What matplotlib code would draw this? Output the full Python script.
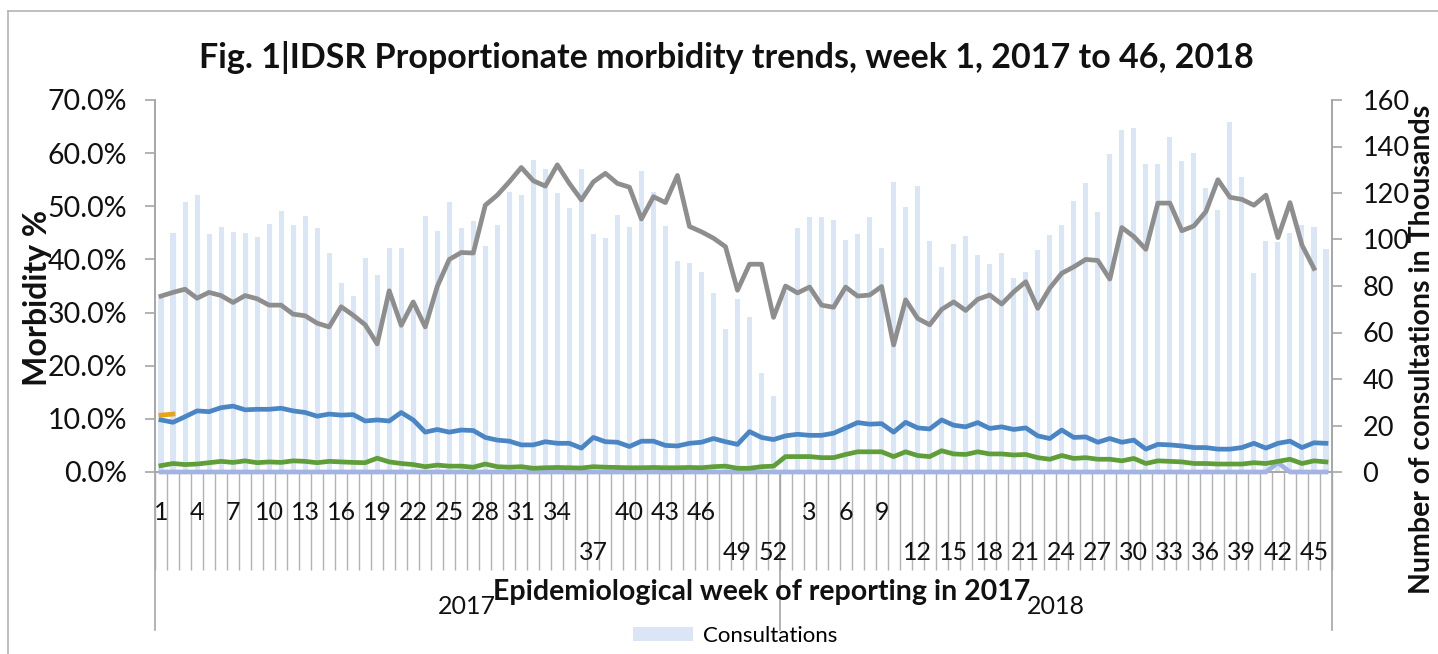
import numpy as np
import matplotlib
matplotlib.use("Agg")
import matplotlib.pyplot as plt
from matplotlib.lines import Line2D
import matplotlib.transforms as mtransforms

plt.rcParams['font.family'] = ['Lato', 'DejaVu Sans']

# ---------------- data ----------------
weeks_2017 = list(range(1, 53))
weeks_2018 = list(range(1, 47))
years = ["2017", "2018"]

consultations = [
    76.0, 102.7, 116.0, 119.1, 102.2, 105.4, 103.4, 102.9, 101.2, 106.5,
    112.1, 106.4, 110.2, 104.8, 94.1, 81.1, 75.8, 91.9, 84.7, 96.3,
    96.5, 70.0, 110.2, 103.5, 116.1, 105.1, 108.0, 97.4, 106.4, 120.3,
    119.1, 134.1, 130.3, 119.9, 113.4, 130.2, 102.4, 100.5, 110.5, 105.5,
    129.6, 120.6, 105.8, 90.9, 89.8, 86.2, 76.9, 61.5, 74.3, 66.5,
    42.4, 32.7, 78.0, 104.8, 109.5, 109.5, 108.4, 99.8, 102.2, 109.8,
    96.2, 124.9, 113.8, 123.2, 99.4, 88.3, 97.9, 101.5, 93.3, 89.5,
    94.1, 83.6, 86.2, 95.5, 101.9, 106.2, 116.7, 124.4, 111.7, 136.8,
    147.1, 148.1, 132.5, 132.5, 144.0, 133.9, 137.3, 122.3, 112.7, 150.7,
    127.0, 85.7, 99.4, 99.0, 102.7, 106.2, 105.5, 95.9,
]

series_gray = [
    33.1, 33.8, 34.4, 32.7, 33.8, 33.2, 31.9, 33.2, 32.6, 31.4,
    31.4, 29.7, 29.4, 28.0, 27.3, 31.1, 29.5, 27.7, 24.1, 34.1,
    27.6, 32.0, 27.3, 34.9, 40.0, 41.3, 41.2, 50.2, 52.1, 54.6,
    57.3, 54.8, 53.8, 57.8, 54.3, 51.2, 54.6, 56.2, 54.3, 53.6,
    47.6, 51.8, 50.7, 55.8, 46.2, 45.2, 44.0, 42.4, 34.2, 39.1,
    39.1, 29.1, 35.0, 33.7, 34.8, 31.4, 31.0, 34.8, 33.1, 33.3,
    34.9, 23.9, 32.4, 28.9, 27.7, 30.6, 32.0, 30.4, 32.5, 33.3,
    31.6, 33.9, 35.8, 30.8, 34.6, 37.4, 38.6, 40.0, 39.8, 36.3,
    46.0, 44.3, 41.9, 50.6, 50.6, 45.4, 46.3, 49.0, 55.0, 51.7,
    51.3, 50.2, 52.1, 44.1, 50.7, 42.7, 38.3, np.nan,
]

series_blue = [
    9.8, 9.35, 10.4, 11.5, 11.35, 12.1, 12.4, 11.7, 11.8, 11.8,
    12.0, 11.5, 11.2, 10.5, 10.9, 10.7, 10.8, 9.6, 9.8, 9.6,
    11.2, 9.8, 7.5, 8.0, 7.5, 7.9, 7.8, 6.5, 6.0, 5.8,
    5.1, 5.1, 5.7, 5.4, 5.4, 4.5, 6.5, 5.7, 5.6, 4.8,
    5.8, 5.8, 5.0, 4.9, 5.4, 5.6, 6.3, 5.7, 5.2, 7.6,
    6.5, 6.1, 6.8, 7.1, 6.9, 6.9, 7.3, 8.3, 9.3, 9.0,
    9.1, 7.5, 9.35, 8.3, 8.1, 9.8, 8.8, 8.5, 9.3, 8.2,
    8.5, 8.0, 8.3, 6.8, 6.3, 7.9, 6.5, 6.6, 5.6, 6.3,
    5.6, 6.0, 4.3, 5.2, 5.1, 4.9, 4.6, 4.6, 4.3, 4.3,
    4.6, 5.4, 4.5, 5.4, 5.8, 4.6, 5.5, 5.4,
]

series_green = [
    1.2, 1.6, 1.4, 1.5, 1.75, 2.0, 1.8, 2.1, 1.75, 1.9,
    1.8, 2.1, 2.0, 1.75, 2.0, 1.9, 1.8, 1.75, 2.6, 1.9,
    1.6, 1.4, 1.0, 1.3, 1.1, 1.1, 0.9, 1.5, 1.0, 0.9,
    1.0, 0.7, 0.8, 0.85, 0.8, 0.75, 1.0, 0.9, 0.85, 0.8,
    0.8, 0.85, 0.8, 0.8, 0.85, 0.8, 1.0, 1.1, 0.7, 0.7,
    1.0, 1.1, 2.9, 2.9, 2.9, 2.7, 2.7, 3.3, 3.8, 3.8,
    3.8, 2.9, 3.8, 3.1, 2.9, 4.0, 3.4, 3.3, 3.8, 3.4,
    3.4, 3.2, 3.3, 2.7, 2.4, 3.1, 2.55, 2.7, 2.4, 2.4,
    2.1, 2.55, 1.6, 2.1, 2.0, 1.9, 1.6, 1.6, 1.5, 1.5,
    1.5, 1.75, 1.6, 2.0, 2.4, 1.6, 2.1, 1.9,
]

series_lavender = [0.0] * 93 + [1.75] + [0.0] * 4

series_orange = [10.7, 10.9] + [np.nan] * 96

left_ticks = [0, 10, 20, 30, 40, 50, 60, 70]
right_ticks = [0, 20, 40, 60, 80, 100, 120, 140, 160]

# labelled weeks (every third category) and which ones drop to the lower row
label_step = 3
lower_row_2017 = [37, 49, 52]
lower_row_2018_from = 12

# ---------------- figure ----------------
W, H = 1438, 654
fig = plt.figure(figsize=(W / 100, H / 100), dpi=100)
fig.patch.set_facecolor('white')

L, R, T, B = 155, 1332, 100, 472
ax = fig.add_axes([L / W, 1 - B / H, (R - L) / W, (B - T) / H])
ax2 = ax.twinx()
ax.set_zorder(2)
ax.patch.set_visible(False)
ax2.set_zorder(1)

categories = [("2017", w) for w in weeks_2017] + [("2018", w) for w in weeks_2018]
n = len(categories)
x = np.arange(n)

bars = ax2.bar(x, consultations, width=0.42, color='#DAE6F5', linewidth=0)

lw = 3.4
ax.plot(x, series_lavender, color='#A3B3E2', lw=lw, clip_on=False, zorder=3)
ax.plot(x, series_green, color='#5F9E38', lw=lw, clip_on=False, zorder=4)
ax.plot(x, series_blue, color='#4A86C4', lw=lw, clip_on=False, zorder=4)
ax.plot(x, series_gray, color='#8E8E8E', lw=lw, clip_on=False, zorder=4)
ax.plot(x, series_orange, color='#E8A317', lw=lw, clip_on=False, zorder=4)

ax.set_xlim(-0.5, n - 0.5)
ax.set_ylim(0, 70)
ax2.set_ylim(0, 160)

axis_col = '#A6A6A6'
for a in (ax, ax2):
    a.spines['top'].set_visible(False)
    for s in ('left', 'right', 'bottom'):
        a.spines[s].set_color(axis_col)
        a.spines[s].set_linewidth(1.2)
        a.spines[s].set_zorder(1)

ax.set_yticks(left_ticks)
ax.set_yticklabels([f"{v:.1f}%" for v in left_ticks])
ax2.set_yticks(right_ticks)
ax2.set_yticklabels([str(v) for v in right_ticks])
ax.tick_params(axis='y', direction='out', length=7, width=1.2, color=axis_col,
               labelsize=20.5, pad=13, labelcolor='#111111')
ax2.tick_params(axis='y', direction='out', length=7, width=1.2, color=axis_col,
                labelsize=19.5, pad=15, labelcolor='#111111')

# category separators
ax.set_xticks(np.arange(-0.5, n, 1.0), minor=True)
ax.set_xticks([])
ax.tick_params(axis='x', which='minor', direction='out', length=98 / 1.389,
               width=1.0, color='#B2B2B2')
ax2.tick_params(axis='x', which='both', length=0)

trans = mtransforms.blended_transform_factory(ax.transData, ax.transAxes)
px = 1.0 / (B - T)  # one pixel in axes fraction (vertical)

# year boundaries extend further down
for xb in [-0.5, len(weeks_2017) - 0.5, n - 0.5]:
    ax.plot([xb, xb], [0, -158 * px], transform=trans, color=axis_col, lw=1.2,
            clip_on=False)

# week labels
for i, (yr, wk) in enumerate(categories):
    if yr == "2017":
        idx = wk - 1
    else:
        idx = wk - 1 + 52
    if idx % label_step != 0:
        continue
    lower = (yr == "2017" and wk in lower_row_2017) or (yr == "2018" and wk >= lower_row_2018_from)
    yy = -(80 if lower else 41) * px
    ax.text(i, yy, str(wk), transform=trans, ha='center', va='center',
            fontsize=18, color='#111111')

# year labels
ax.text((len(weeks_2017) - 1) / 2, -135 * px, years[0], transform=trans,
        ha='center', va='center', fontsize=18, color='#111111')
ax.text(len(weeks_2017) + (len(weeks_2018) - 1) / 2, -135 * px, years[1], transform=trans,
        ha='center', va='center', fontsize=18, color='#111111')

# axis titles
ax.text((762 - L) / (R - L), -120 * px, "Epidemiological week of reporting in 2017",
        transform=ax.transAxes, ha='center', va='center', fontsize=20.5,
        fontweight='bold', color='#111111')
fig.text(38 / W, 1 - 298 / H, "Morbidity %", rotation=90, ha='center', va='center',
         fontsize=23, fontweight='bold', color='#111111')
fig.text(1422 / W, 1 - 349 / H, "Number of consultations in Thousands", rotation=90,
         ha='center', va='center', fontsize=20.5, fontweight='bold', color='#111111')

# title
fig.text(726 / W, 1 - 58 / H,
         "Fig. 1|IDSR Proportionate morbidity trends, week 1, 2017 to 46, 2018",
         ha='center', va='center', fontsize=24.5, fontweight='bold', color='#111111')

# legend
fig.legend([bars], ["Consultations"], loc='center', bbox_to_anchor=(735 / W, 1 - 636 / H),
           frameon=False, fontsize=16, handlelength=2.7, handleheight=0.6,
           handletextpad=0.45, borderpad=0)

# outer border
fig.add_artist(Line2D([8 / W, 8 / W], [0, 1 - 11 / H], transform=fig.transFigure,
                      color='#B4B4B4', lw=1.2))
fig.add_artist(Line2D([8 / W, 1], [1 - 11 / H, 1 - 11 / H], transform=fig.transFigure,
                      color='#B4B4B4', lw=1.2))

fig.savefig("out.png", dpi=100)
